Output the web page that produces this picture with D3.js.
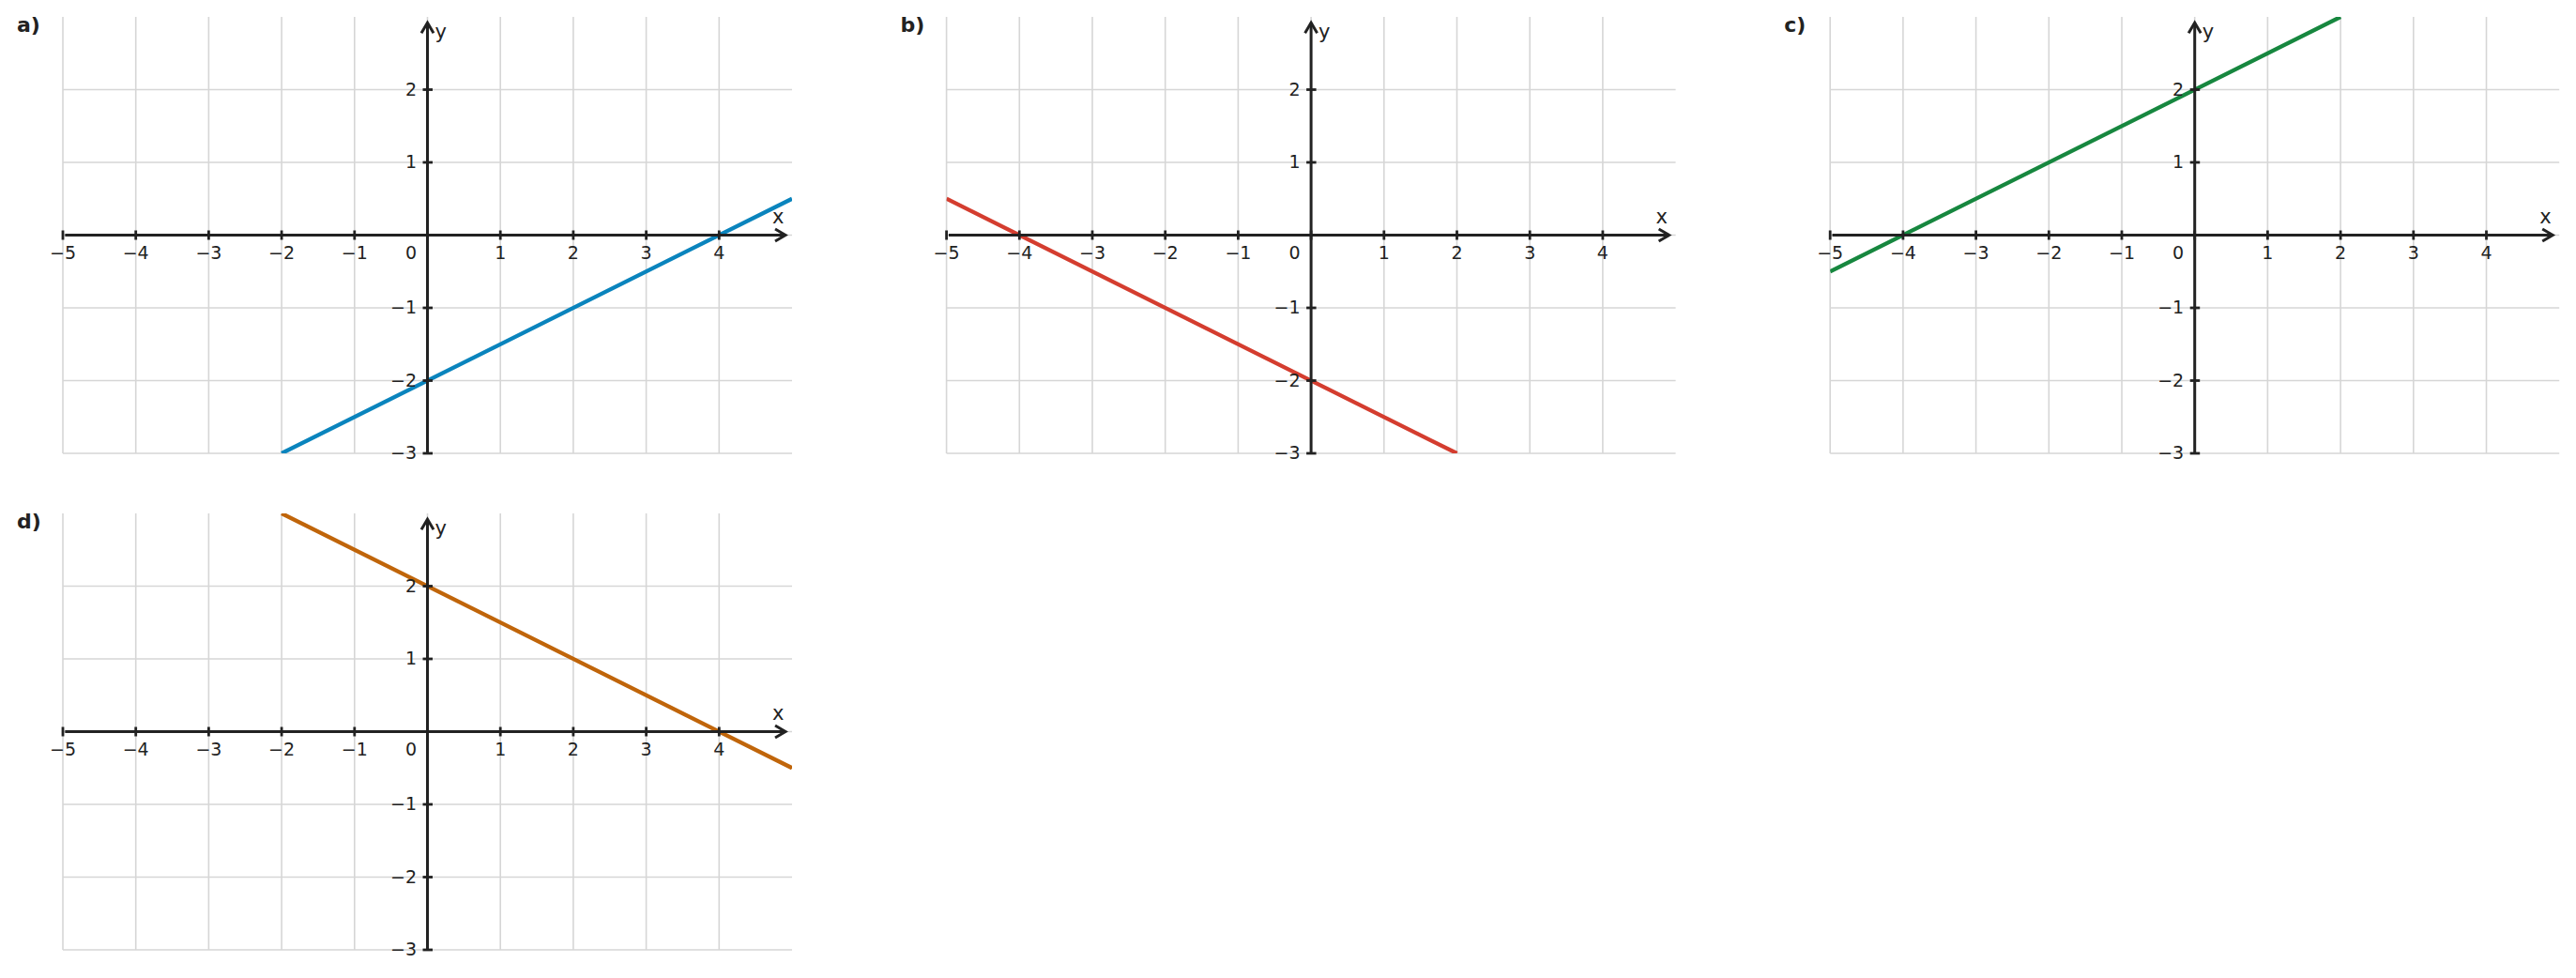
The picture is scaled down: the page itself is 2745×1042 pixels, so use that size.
<!DOCTYPE html>
<html>
<head>
<meta charset="utf-8">
<script src="https://cdn.jsdelivr.net/npm/d3@7"></script>
<style>
  body { margin: 0; background: #fff; }
  text { font-family: "DejaVu Sans", sans-serif; fill: #222; }
</style>
</head>
<body>
<div id="main"></div>
<script>
// panel data
var panelNames = ["a)", "b)", "c)", "d)"];
var panelColors = ["#0a84bd", "#d43d2f", "#17873f", "#c0650a"];
// visible end points of each line
var lineA = [[-2, -3], [5, 0.5]];
var lineB = [[-5, 0.5], [2, -3]];
var lineC = [[-5, -0.5], [2, 3]];
var lineD = [[-2, 3], [5, -0.5]];
var panelLines = [lineA, lineB, lineC, lineD];

var xTicks = [-5, -4, -3, -2, -1, 0, 1, 2, 3, 4];
var xTickLabels = ["−5", "−4", "−3", "−2", "−1", "0", "1", "2", "3", "4"];
var yTicks = [-3, -2, -1, 1, 2];
var yTickLabels = ["−3", "−2", "−1", "1", "2"];

var svg = d3.select("#main").append("svg")
    .attr("width", 2745)
    .attr("height", 1042);

var W = 777, H = 465;
var ink = "#222";

svg.append("defs").selectAll("clipPath")
  .data(panelNames)
  .enter().append("clipPath")
    .attr("id", (d, i) => "clip" + i)
  .append("rect")
    .attr("width", W)
    .attr("height", H);

panelNames.forEach(function(name, i) {
  var col = i % 3, row = Math.floor(i / 3);
  var g = svg.append("g")
      .attr("transform", "translate(" + (67 + col * 941.6) + "," + (18 + row * 529) + ")");

  var x = d3.scaleLinear().domain([-5, 5]).range([0, W]);
  var y = d3.scaleLinear().domain([-3, 3]).range([H, 0]);

  // grid
  g.selectAll(".vgrid").data(xTicks).enter().append("line")
      .attr("x1", d => x(d)).attr("x2", d => x(d))
      .attr("y1", y(-3)).attr("y2", y(3))
      .attr("stroke", "#d6d6d6").attr("stroke-width", 1.6);
  g.selectAll(".hgrid").data(yTicks.concat([0])).enter().append("line")
      .attr("x1", x(-5)).attr("x2", x(5))
      .attr("y1", d => y(d)).attr("y2", d => y(d))
      .attr("stroke", "#d6d6d6").attr("stroke-width", 1.6);

  // the line
  var line = d3.line().x(d => x(d[0])).y(d => y(d[1]));
  g.append("path")
      .datum(panelLines[i])
      .attr("d", line)
      .attr("clip-path", "url(#clip" + i + ")")
      .attr("fill", "none")
      .attr("stroke", panelColors[i])
      .attr("stroke-width", 4.3);

  // axes through the origin
  g.append("line")
      .attr("x1", x(-4.97)).attr("x2", x(4.91))
      .attr("y1", y(0)).attr("y2", y(0))
      .attr("stroke", ink).attr("stroke-width", 3);
  g.append("line")
      .attr("x1", x(0)).attr("x2", x(0))
      .attr("y1", y(-3)).attr("y2", y(2.92))
      .attr("stroke", ink).attr("stroke-width", 3);

  // arrow heads
  var tx = x(4.91), ty = y(2.92);
  g.append("path")
      .attr("d", "M" + (tx - 11) + "," + (y(0) - 6.5) + "L" + tx + "," + y(0) + "L" + (tx - 11) + "," + (y(0) + 6.5))
      .attr("fill", "none").attr("stroke", ink).attr("stroke-width", 3);
  g.append("path")
      .attr("d", "M" + (x(0) - 6.5) + "," + (ty + 11) + "L" + x(0) + "," + ty + "L" + (x(0) + 6.5) + "," + (ty + 11))
      .attr("fill", "none").attr("stroke", ink).attr("stroke-width", 3);

  // ticks
  g.selectAll(".xtick").data(xTicks).enter().append("line")
      .attr("x1", d => x(d)).attr("x2", d => x(d))
      .attr("y1", y(0) - 5).attr("y2", y(0) + 5)
      .attr("stroke", ink).attr("stroke-width", 2.8);
  g.selectAll(".ytick").data(yTicks).enter().append("line")
      .attr("x1", x(0) - 5).attr("x2", x(0) + 5.5)
      .attr("y1", d => y(d)).attr("y2", d => y(d))
      .attr("stroke", ink).attr("stroke-width", 2.8);

  // tick labels
  g.selectAll(".xlab").data(xTicks).enter().append("text")
      .attr("x", d => d === 0 ? x(0) - 11.5 : x(d))
      .attr("y", y(0) + 25.5)
      .attr("text-anchor", d => d === 0 ? "end" : "middle")
      .attr("font-size", 19)
      .text((d, j) => xTickLabels[j]);
  g.selectAll(".ylab").data(yTicks).enter().append("text")
      .attr("x", x(0) - 11.5)
      .attr("y", d => y(d) + 6)
      .attr("text-anchor", "end")
      .attr("font-size", 19)
      .text((d, j) => yTickLabels[j]);

  // axis names
  g.append("text")
      .attr("x", x(4.81)).attr("y", y(0) - 13)
      .attr("text-anchor", "middle")
      .attr("font-size", 21)
      .text("x");
  g.append("text")
      .attr("x", x(0) + 8).attr("y", 23)
      .attr("font-size", 21)
      .text("y");

  // panel letter
  g.append("text")
      .attr("x", -49).attr("y", 16)
      .attr("font-size", 22)
      .attr("font-weight", "bold")
      .text(name);
});
</script>
</body>
</html>
